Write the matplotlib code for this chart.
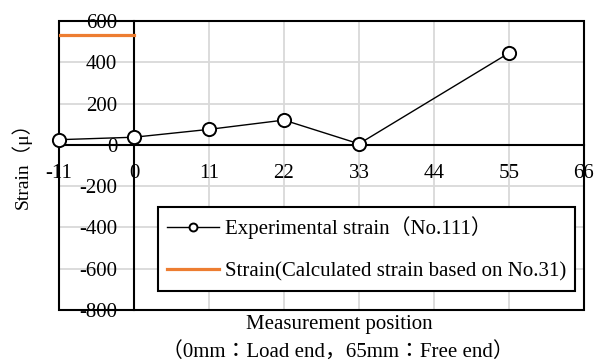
import matplotlib
matplotlib.use("Agg")
import matplotlib.pyplot as plt
from matplotlib.patches import Rectangle

plt.rcParams["font.family"] = ["Liberation Serif", "Noto Sans CJK JP"]
plt.rcParams["axes.unicode_minus"] = False

# data
positions = [-11, 0, 11, 22, 33, 55]
exp_strain = [25, 37, 75, 120, 5, 445]
calc_x = [-11, 0]
calc_strain = [530, 530]

x_ticks = [-11, 0, 11, 22, 33, 44, 55, 66]
y_ticks = [-800, -600, -400, -200, 0, 200, 400, 600]

W, H = 595, 363
fs = 15
fig = plt.figure(figsize=(W / 100, H / 100), dpi=100)
ax = fig.add_axes([59 / W, 1 - 310 / H, (584 - 59) / W, (310 - 21) / H])
ax.set_xlim(-11, 66)
ax.set_ylim(-800, 600)
ax.set_xticks(x_ticks)
ax.set_yticks(y_ticks)
ax.grid(True, color="#d9d9d9", lw=1.3, zorder=0)
ax.set_axisbelow(True)

# axes cross at (0, 0), plot area keeps a full frame
for s in ["top", "right"]:
    ax.spines[s].set_visible(False)
ax.spines["left"].set_position(("data", 0))
ax.spines["bottom"].set_position(("data", 0))
for s in ["left", "bottom"]:
    ax.spines[s].set_linewidth(1.5)
    ax.spines[s].set_color("black")
ax.add_patch(Rectangle((0, 0), 1, 1, transform=ax.transAxes, fill=False,
                       edgecolor="black", lw=1.5, zorder=3, clip_on=False))
ax.tick_params(axis="y", length=0, labelsize=fs, pad=12)
ax.tick_params(axis="x", length=0, labelsize=fs, pad=14)

ax.plot(calc_x, calc_strain, color="#ED7D31", lw=2.3, zorder=4,
        label="Strain(Calculated strain based on No.31)")
ax.plot(positions, exp_strain, color="black", lw=1.0, marker="o", ms=9.5,
        mfc="white", mec="black", mew=1.4, zorder=5, clip_on=False,
        label="Experimental strain（No.111）")

h, l = ax.get_legend_handles_labels()
leg = ax.legend(h[::-1], l[::-1], loc="upper left",
                bbox_to_anchor=(158 / W, 1 - 207 / H), bbox_transform=fig.transFigure,
                fontsize=fs, frameon=True, fancybox=False, framealpha=1,
                edgecolor="black", markerscale=0.6, handlelength=2.5,
                labelspacing=1.1, borderpad=0.45, borderaxespad=0,
                handletextpad=0.25)
leg.get_frame().set_linewidth(1.5)

fig.text(21 / W, 1 - 161 / H, "Strain（μ）", rotation=90, ha="center", va="center",
         fontsize=14)
fig.text(339 / W, 1 - 325 / H, "Measurement position", ha="center", va="center",
         fontsize=fs)
fig.text(338 / W, 1 - 352 / H, "（0mm：Load end，65mm：Free end）", ha="center",
         va="center", fontsize=fs)

fig.savefig("out.png", dpi=100)
